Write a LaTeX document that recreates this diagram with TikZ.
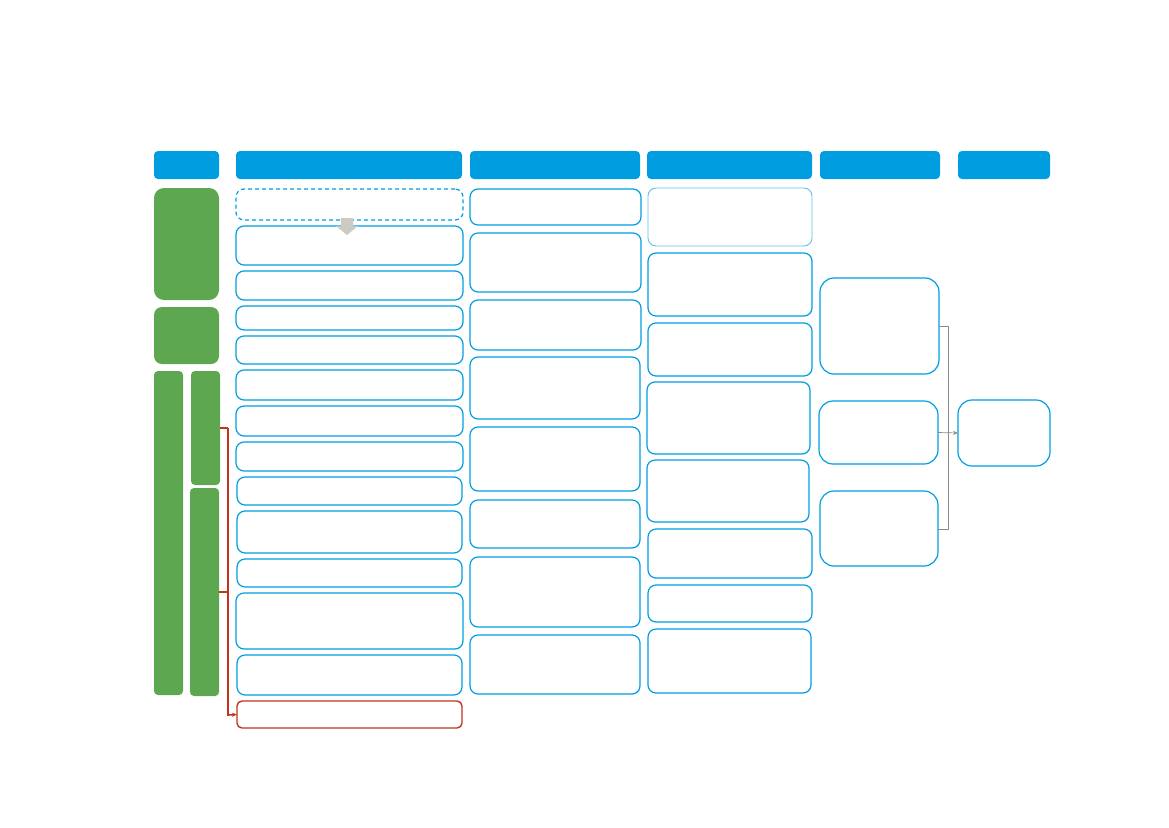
\documentclass[tikz,border=0pt]{standalone}
\usetikzlibrary{arrows.meta}
\definecolor{hblue}{HTML}{009EE0}
\definecolor{lblue}{HTML}{3AAEE6}
\definecolor{gr}{HTML}{5DA751}
\definecolor{redc}{HTML}{C0341D}
\definecolor{grayc}{HTML}{8C8C80}
\definecolor{arrg}{HTML}{CBCBC3}
\newcommand{\bx}[6]{\node[#6, minimum width={(#4-#2)*1pt}, minimum height={(#5-#3)*1pt}] (#1) at ({(#2+#4)/2},{(#3+#5)/2}) {};}
\tikzset{
  base/.style={inner sep=0pt, outer sep=0pt, rectangle},
  head/.style={base, fill=hblue, rounded corners=4pt},
  grn/.style={base, fill=gr, rounded corners=#1},
  grn/.default=4pt,
  card/.style={base, draw=hblue, line width=1.2pt, rounded corners=8pt},
  lcard/.style={base, draw=lblue!80, line width=0.9pt, rounded corners=8pt},
  dcard/.style={base, draw=hblue, line width=1.2pt, rounded corners=8pt, dash pattern=on 4pt off 3pt},
  rcard/.style={base, draw=redc, line width=1.4pt, rounded corners=5pt},
  bigcard/.style={base, draw=hblue, line width=1.2pt, rounded corners=14pt},
  gline/.style={draw=grayc, line width=0.7pt},
  rline/.style={draw=redc, line width=1.6pt},
}
\begin{document}
\begin{tikzpicture}[x=1pt,y=-1pt]
\useasboundingbox (0,0) rectangle (1169,827);
% headers
\bx{h0}{154}{151}{219}{179}{head}
\bx{h1}{236}{151}{462}{179}{head}
\bx{h2}{470}{151}{640}{179}{head}
\bx{h3}{647}{151}{812}{179}{head}
\bx{h4}{820}{151}{940}{179}{head}
\bx{h5}{958}{151}{1050}{179}{head}
% green
\bx{g1}{154}{188}{219}{300}{grn=10pt}
\bx{g2}{154}{307}{219}{364}{grn=8pt}
\bx{g3}{154}{371}{183}{695}{grn}
\bx{g4}{191}{371}{220}{485}{grn}
\bx{g5}{190}{488}{219}{696}{grn}
% column 1
\bx{a0}{236}{189}{463}{220}{dcard}
\bx{a1}{236}{226}{463}{265}{card}
\bx{a2}{236}{271}{463}{300}{card}
\bx{a3}{236}{306}{463}{330}{card}
\bx{a4}{236}{336}{463}{364}{card}
\bx{a5}{236}{370}{463}{400}{card}
\bx{a6}{236}{406}{463}{436}{card}
\bx{a7}{236}{442}{463}{471}{card}
\bx{a8}{237}{477}{462}{505}{card}
\bx{a9}{237}{511}{462}{553}{card}
\bx{a10}{237}{559}{462}{587}{card}
\bx{a11}{236}{593}{463}{649}{card}
\bx{a12}{237}{655}{462}{695}{card}
\bx{ar}{237}{701}{462}{728}{rcard}
% gray arrow
\fill[arrg] (341,218) -- (353,218) -- (353,226) -- (358,226) -- (347,235) -- (336,226) -- (341,226) -- cycle;
% column 2
\bx{b1}{470}{189}{641}{225}{card}
\bx{b2}{470}{233}{641}{292}{card}
\bx{b3}{470}{300}{641}{350}{card}
\bx{b4}{470}{357}{640}{419}{card}
\bx{b5}{470}{427}{640}{491}{card}
\bx{b6}{470}{500}{640}{548}{card}
\bx{b7}{470}{557}{640}{627}{card}
\bx{b8}{470}{635}{640}{694}{card}
% column 3
\bx{c1}{648}{188}{812}{246}{lcard}
\bx{c2}{648}{253}{812}{316}{card}
\bx{c3}{648}{323}{812}{376}{card}
\bx{c4}{647}{382}{810}{454}{card}
\bx{c5}{647}{460}{809}{522}{card}
\bx{c6}{648}{529}{812}{578}{card}
\bx{c7}{648}{585}{812}{622}{card}
\bx{c8}{648}{629}{811}{693}{card}
% column 4
\bx{d1}{820}{278}{939}{374}{bigcard}
\bx{d2}{819}{401}{938}{464}{bigcard}
\bx{d3}{820}{491}{938}{566}{bigcard}
% column 5
\bx{e1}{958}{400}{1050}{466}{bigcard}
% gray connectors
\coordinate (j1) at (948,326);
\coordinate (j3) at (948,529);
\draw[gline] (d1.east |- j1) -- (j1) -- (j3) -- (d3.east |- j3);
\draw[gline, -{Stealth[length=5pt,width=4pt]}] (d2.east) -- (e1.west);
% red connectors
\coordinate (r1) at (228,428);
\coordinate (r2) at (228,592);
\coordinate (r3) at (228,715);
\draw[rline] (g4.east |- r1) -- (r1);
\draw[rline] (g5.east |- r2) -- (r2);
\draw[rline, -{Stealth[length=5pt,width=4pt]}] (r1) -- (r3) -- (ar.west);
\end{tikzpicture}
\end{document}
